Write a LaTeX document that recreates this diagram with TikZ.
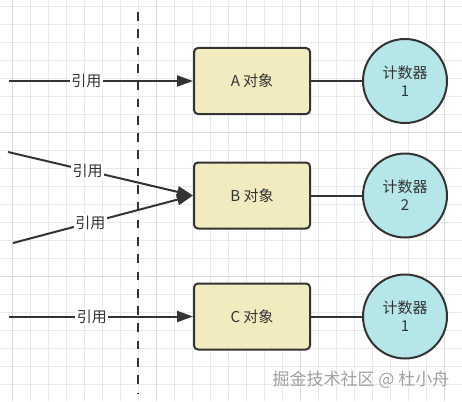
\documentclass[tikz,border=0pt]{standalone}
\usepackage{fontspec}
\setmainfont{Noto Sans CJK SC}
\usetikzlibrary{arrows.meta}
\definecolor{ink}{HTML}{333333}
\definecolor{boxfill}{HTML}{F2EBC0}
\definecolor{circfill}{HTML}{B5E6E8}
\definecolor{gridminor}{HTML}{E8E8E8}
\definecolor{gridmajor}{HTML}{DADADA}
\definecolor{wm}{HTML}{A0A0A0}
\tikzset{
  objbox/.style={draw=ink, line width=2pt, fill=boxfill, rounded corners=4pt,
    minimum width=116pt, minimum height=66pt, inner sep=0pt, text=ink,
    font=\fontsize{15}{18}\selectfont},
  counter/.style={draw=ink, line width=2pt, fill=circfill, circle,
    minimum size=84pt, inner sep=0pt, text=ink, align=center,
    font=\fontsize{15}{18}\selectfont},
  refarrow/.style={draw=ink, line width=2pt, -{Triangle[length=16pt,width=11pt]}},
  link/.style={draw=ink, line width=2pt},
  reflabel/.style={fill=white, inner sep=1.5pt, text=ink, font=\fontsize{15}{18}\selectfont},
}
\begin{document}
\begin{tikzpicture}[x=1pt,y=-1pt]
\useasboundingbox (0,0) rectangle (462,401);
\fill[white] (0,0) rectangle (462,401);
% grid
\foreach \i in {0,...,25} {
  \draw[gridminor, line width=0.8pt] ({12.7+18*\i},0) -- ({12.7+18*\i},401);
}
\foreach \j in {0,...,22} {
  \draw[gridminor, line width=0.8pt] (0,{6+18*\j}) -- (462,{6+18*\j});
}
\foreach \x in {12.7,156.7,300.7,444.7} {
  \draw[gridmajor, line width=0.8pt] (\x,0) -- (\x,401);
}
\foreach \y in {132.7,276.7} {
  \draw[gridmajor, line width=0.8pt] (0,\y) -- (462,\y);
}
% dashed divider
\coordinate (dtop) at (137.7,12);
\coordinate (dbot) at (137.7,393);
\draw[ink, line width=2pt, dash pattern=on 8.7pt off 8.6pt] (dtop) -- (dbot);
% objects
\node[objbox] (A) at (252,81) {A 对象};
\node[objbox] (B) at (252,195.5) {B 对象};
\node[objbox] (C) at (252,316.5) {C 对象};
\node[counter] (cA) at (405,81) {计数器\\1};
\node[counter] (cB) at (405,195.5) {计数器\\2};
\node[counter] (cC) at (405,316.5) {计数器\\1};
\draw[link] (A) -- (cA);
\draw[link] (B) -- (cB);
\draw[link] (C) -- (cC);
% references
\coordinate (sA) at (9,81);
\coordinate (sB1) at (8,152);
\coordinate (sB2) at (13,243);
\coordinate (sC) at (9,316.5);
\draw[refarrow] (sA) -- node[reflabel, pos=0.42] {引用} (A.west);
\draw[refarrow] (sB1) -- node[reflabel, pos=0.43] {引用} (B.west);
\draw[refarrow] (sB2) -- node[reflabel, pos=0.43] {引用} (B.west);
\draw[refarrow] (sC) -- node[reflabel, pos=0.45] {引用} (C.west);
% watermark
\node[text=wm, font=\fontsize{17}{20}\selectfont, anchor=center] (wmark) at (361,380) {掘金技术社区 @ 杜小舟};
\end{tikzpicture}
\end{document}
